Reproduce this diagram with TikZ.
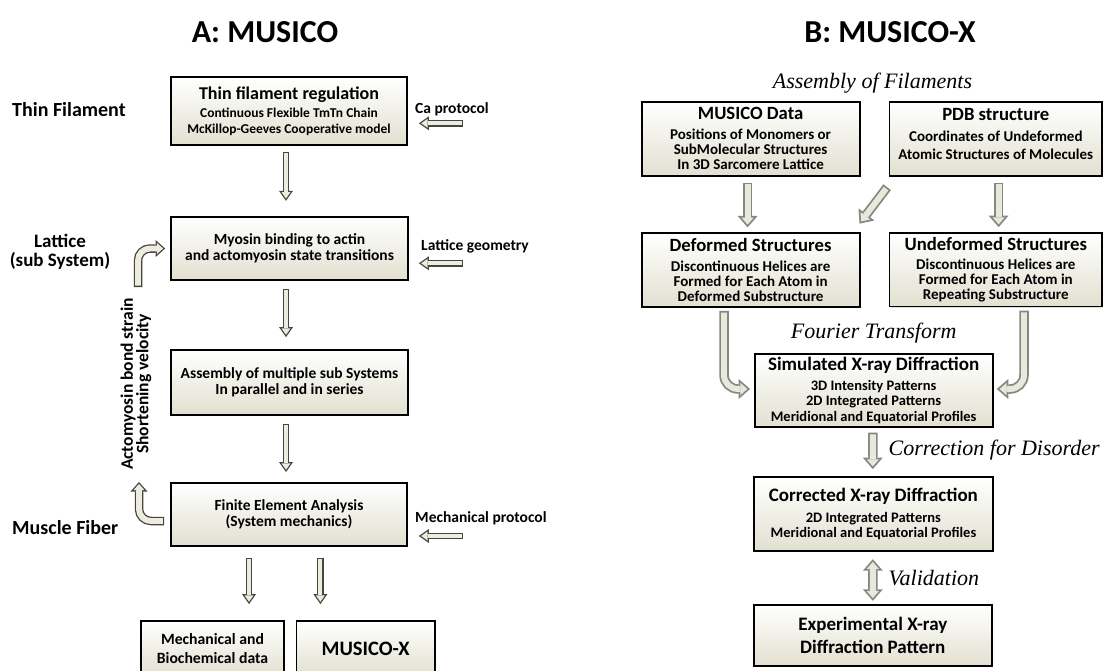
\documentclass[tikz,border=0pt]{standalone}
\usepackage{fontspec}
\setmainfont{Carlito}
\newfontfamily\chancery{Liberation Serif}
\usepackage{tikz}
\usetikzlibrary{arrows.meta,calc,shadows}

\definecolor{boxbot}{RGB}{226,224,208}
\definecolor{arrline}{RGB}{70,70,62}
\definecolor{arrfill}{RGB}{238,236,224}
\definecolor{rline}{RGB}{135,135,130}
\definecolor{rfill}{RGB}{232,232,220}
\newcommand{\fsz}[2]{\fontsize{#1}{#2}\selectfont}

\begin{document}
\begin{tikzpicture}[x=1pt,y=-1pt,
  ttl/.style={font=\bfseries\fsz{32}{34},inner sep=0pt},
  rowlab/.style={font=\bfseries\fsz{20}{23},align=center,inner sep=0pt},
  inlab/.style={font=\bfseries\fsz{15.5}{18},anchor=west,inner sep=0pt},
  scr/.style={font=\chancery\itshape\fsz{22}{26},inner sep=0pt},
  flowbox/.style={draw=black,line width=1.8pt,top color=white,bottom color=boxbot,
    align=center,inner sep=2pt,font=\bfseries,
    drop shadow={opacity=0.25,shadow xshift=1.2pt,shadow yshift=-1.2pt}},
  harrow/.style={preaction={draw=arrline,line width=6.6pt,shorten <=0pt,shorten >=0pt,
      -{Triangle[length=10pt,width=14pt,line width=0pt]}},
    draw=arrfill,line width=4pt,shorten <=1.3pt,shorten >=2.3pt,
    -{Triangle[length=6.4pt,width=9pt,line width=0pt]}},
  carrow/.style={preaction={draw=arrline,line width=8.5pt,shorten <=0pt,shorten >=0pt,
      -{Triangle[length=9.5pt,width=17pt,line width=0pt]}},
    draw=arrfill,line width=5.9pt,shorten <=1.3pt,shorten >=1.95pt,
    -{Triangle[length=6.25pt,width=11.2pt,line width=0pt]}},
  rarrow/.style={preaction={draw=rline,line width=9.5pt,shorten <=0pt,shorten >=0pt,
      -{Triangle[length=11.5pt,width=20pt,line width=0pt]}},
    draw=rfill,line width=5.9pt,shorten <=1.8pt,shorten >=2.75pt,
    -{Triangle[length=6.95pt,width=12.1pt,line width=0pt]}},
  rdouble/.style={preaction={draw=rline,line width=9.5pt,shorten <=0pt,shorten >=0pt,
      {Triangle[length=11.5pt,width=20pt,line width=0pt]}-{Triangle[length=11.5pt,width=20pt,line width=0pt]}},
    draw=rfill,line width=5.9pt,shorten <=2.75pt,shorten >=2.75pt,
    {Triangle[length=6.95pt,width=12.1pt,line width=0pt]}-{Triangle[length=6.95pt,width=12.1pt,line width=0pt]}},
]
\useasboundingbox (0,0) rectangle (1105,671);
\fill[white] (0,0) rectangle (1105,671);

% titles
\node[ttl] (ta) at (265,32) {A: MUSICO};
\node[ttl] (tb) at (890,32) {B: MUSICO-X};

% A: MUSICO
\node[rowlab,anchor=west] (thinlab) at (12,110) {Thin Filament};
\node[rowlab,font=\bfseries\fsz{19}{19}] (latlab) at (60,252) {Lattice\\(sub System)};
\node[rowlab,anchor=west] (fiblab) at (12,528) {Muscle Fiber};

\node[flowbox,minimum width=236pt,minimum height=68pt,font=\bfseries\fsz{13.5}{16}] (thin) at (289,111)
  {{\fsz{18}{20}Thin filament regulation}\\[1.5pt]Continuous Flexible TmTn Chain\\McKillop-Geeves Cooperative model};
\node[flowbox,minimum width=237pt,minimum height=63pt,font=\bfseries\fsz{15.5}{15.5}] (myosin) at (289.5,248.5)
  {Myosin binding to actin\\and actomyosin state transitions};
\node[flowbox,minimum width=237pt,minimum height=65pt,font=\bfseries\fsz{15.5}{15.5}] (assem) at (289.5,382.5)
  {Assembly of multiple sub Systems\\In parallel and in series};
\node[flowbox,minimum width=236pt,minimum height=63.3pt,font=\bfseries\fsz{15.5}{15.5}] (fea) at (289,514.3)
  {Finite Element Analysis\\(System mechanics)};
\node[flowbox,minimum width=143pt,minimum height=55pt,font=\bfseries\fsz{15.7}{19}] (mechdata) at (212.5,648.5)
  {Mechanical and\\Biochemical data};
\node[flowbox,minimum width=138.6pt,minimum height=55pt,font=\bfseries\fsz{20.5}{24}] (musicox) at (365.7,648.5)
  {MUSICO-X};

\node[inlab] (ca) at (415,109) {Ca protocol};
\node[inlab] (latgeo) at (421,246.7) {Lattice geometry};
\node[inlab] (mechprot) at (415,518.3) {Mechanical protocol};

\draw[harrow] ($(thin.east)+(55.5,12.3)$) -- ($(thin.east)+(11,12.3)$);
\draw[harrow] ($(myosin.east)+(54,14.8)$) -- ($(myosin.east)+(10,14.8)$);
\draw[harrow] ($(fea.east)+(55.5,21.7)$) -- ($(fea.east)+(11,21.7)$);

\draw[harrow] ($(thin.south)+(-3,5.7)$) -- ($(myosin.north)+(-3.5,-15.3)$);
\draw[harrow] ($(myosin.south)+(-3.5,8)$) -- ($(assem.north)+(-3.5,-12)$);
\draw[harrow] ($(assem.south)+(-3.5,8)$) -- ($(fea.north)+(-3,-9.7)$);
\draw[harrow] ($(fea.south)+(-40,10.7)$) -- ($(mechdata.north)+(36.5,-16)$);
\draw[harrow] ($(fea.south)+(31.4,10.7)$) -- ($(musicox.north)+(-45.3,-16)$);

% feedback loop
\node[font=\bfseries\fsz{17.5}{15.5},align=center,rotate=90,inner sep=0pt] (strain) at (136,384)
  {Actomyosin bond strain\\Shortening velocity};
\coordinate (fbtop) at (138,287);
\coordinate (fbtip) at (139,482);
\draw[carrow,rounded corners=12pt] (fbtop) |- ($(myosin.west)+(-5,0)$);
\draw[carrow,rounded corners=12pt] ($(fea.west)+(-6,6.7)$) -| (fbtip);

% B: MUSICO-X
\node[scr] (asmf) at (872.5,83) {Assembly of Filaments};
\node[flowbox,minimum width=218pt,minimum height=74pt,font=\bfseries\fsz{15}{15.3}] (musdata) at (750.6,138.7)
  {{\fsz{18.7}{20}MUSICO Data}\\[4pt]Positions of Monomers or\\SubMolecular Structures\\In 3D Sarcomere Lattice};
\node[flowbox,minimum width=212.5pt,minimum height=74pt,font=\bfseries\fsz{15}{17.3}] (pdb) at (995.8,138.7)
  {{\fsz{18.7}{20}PDB structure}\\[4pt]Coordinates of Undeformed\\Atomic Structures of Molecules\rule[-10pt]{0pt}{1pt}};
\node[flowbox,minimum width=218pt,minimum height=73.4pt,font=\bfseries\fsz{15}{15.3}] (deformed) at (750.6,270)
  {{\fsz{18.7}{20}Deformed Structures}\\[5pt]Discontinuous Helices are\\Formed for Each Atom in\\Deformed Substructure};
\node[flowbox,minimum width=212.5pt,minimum height=73.4pt,font=\bfseries\fsz{15}{15.3}] (undeformed) at (995.8,269.7)
  {{\fsz{18.7}{20}Undeformed Structures}\\[4pt]Discontinuous Helices are\\Formed for Each Atom in\\Repeating Substructure};

\node[scr] (fourier) at (873.7,333.3) {Fourier Transform};
\node[flowbox,minimum width=238pt,minimum height=72.7pt,font=\bfseries\fsz{14.5}{15.3}] (sim) at (873.6,390.3)
  {{\fsz{19}{20}Simulated X-ray Diffraction}\\[5pt]3D Intensity Patterns\\2D Integrated Patterns\\Meridional and Equatorial Profiles};
\node[scr,anchor=west] (corrlab) at (888.5,450) {Correction for Disorder};
\node[flowbox,minimum width=238.7pt,minimum height=73.4pt,font=\bfseries\fsz{14.5}{15.3}] (corr) at (873.4,514)
  {{\fsz{19}{20}Corrected X-ray Diffraction}\\[5pt]2D Integrated Patterns\\Meridional and Equatorial Profiles};
\node[scr,anchor=west] (valid) at (888.5,578.3) {Validation};
\node[flowbox,minimum width=238.4pt,minimum height=61pt,font=\bfseries\fsz{19}{23.4}] (exper) at (872.8,635.5)
  {Experimental X-ray\\Diffraction Pattern};

\draw[rarrow] ($(musdata.south)+(-3,6)$) -- ($(deformed.north)+(-3,-5)$);
\draw[rarrow] ($(pdb.south)+(2.8,6)$) -- ($(undeformed.north)+(2.8,-5)$);
\draw[rarrow] ($(pdb.south west)+(-1.5,10.6)$) -- ($(deformed.north east)+(-1,-8.8)$);
\draw[rarrow,rounded corners=14pt] ($(deformed.south)+(-26.6,3.3)$) |- ($(sim.west)+(-3.6,-1.3)$);
\draw[rarrow,rounded corners=14pt] ($(undeformed.south)+(28.2,3.3)$) |- ($(sim.east)+(3.3,-1.3)$);
\draw[rarrow] ($(sim.south)+(-0.8,5)$) -- ($(corr.north)+(-0.6,-7.3)$);
\draw[rdouble] ($(corr.south)+(-0.6,7.6)$) -- ($(exper.north)+(0,-3.3)$);

\end{tikzpicture}
\end{document}
